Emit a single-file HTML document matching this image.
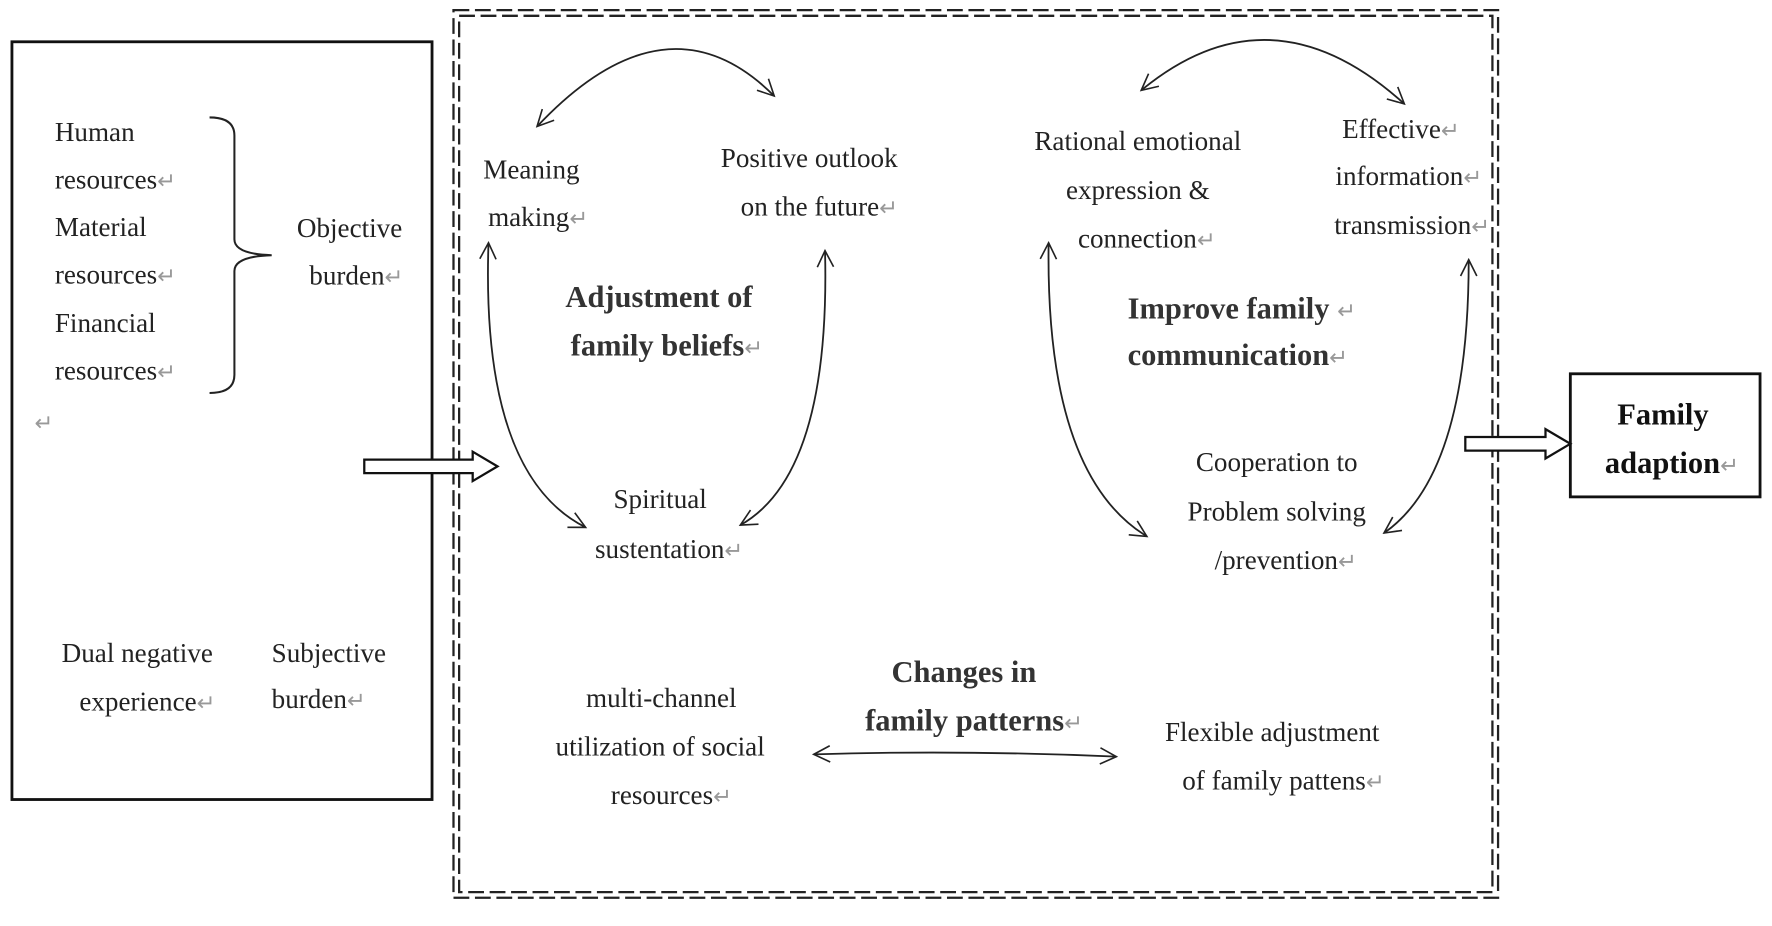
<!DOCTYPE html>
<html><head><meta charset="utf-8"><style>
html,body{margin:0;padding:0;background:#fff;width:1772px;height:926px;overflow:hidden}
svg{display:block}
text{font-family:"Liberation Serif",serif;font-size:24px;fill:#222}
.b{font-weight:bold;font-size:27px;fill:#333}
.r{fill:#999;font-size:20px;font-weight:normal}
</style></head><body>
<svg width="1772" height="926" viewBox="0 0 1568 820" xmlns="http://www.w3.org/2000/svg">
<defs>
<marker id="v" viewBox="0 0 20 20" refX="18" refY="10" markerWidth="18" markerHeight="18" markerUnits="userSpaceOnUse" orient="auto-start-reverse">
<path d="M2,2 L18,10 L2,18" fill="none" stroke="#222" stroke-width="1.6"/>
</marker>
</defs>
<!-- left box -->
<rect x="10" y="37" width="372" height="671" fill="none" stroke="#111" stroke-width="2.5"/>
<!-- dashed double box -->
<rect x="401" y="9" width="925" height="786" fill="none" stroke="#222" stroke-width="2" stroke-dasharray="14,5"/>
<rect x="406" y="14" width="915" height="776" fill="none" stroke="#222" stroke-width="2" stroke-dasharray="14,5"/>
<!-- family adaption box -->
<rect x="1390" y="331" width="168" height="109" fill="none" stroke="#111" stroke-width="2.5"/>
<!-- brace -->
<path d="M185,104 Q207,104 207,120 L207,212 Q207,225 240,226 Q207,227 207,240 L207,332 Q207,348 185,348" fill="none" stroke="#222" stroke-width="1.8"/>
<!-- hollow arrows -->
<path d="M322,407 L418,407 L418,400 L440,413 L418,426 L418,419 L322,419 Z" fill="#fff" stroke="#111" stroke-width="2"/>
<path d="M1297,387 L1368,387 L1368,380 L1390,393 L1368,406 L1368,399 L1297,399 Z" fill="#fff" stroke="#111" stroke-width="2"/>
<!-- curved arrows -->
<g fill="none" stroke="#222" stroke-width="1.6">
<path d="M685,85 Q590,-10 475,112" marker-start="url(#v)" marker-end="url(#v)"/>
<path d="M1010,80 Q1125,-15 1243,92" marker-start="url(#v)" marker-end="url(#v)"/>
<path d="M432,215 Q425,420 518,467" marker-start="url(#v)" marker-end="url(#v)"/>
<path d="M730,222 Q735,420 655,465" marker-start="url(#v)" marker-end="url(#v)"/>
<path d="M928,215 Q925,420 1015,475" marker-start="url(#v)" marker-end="url(#v)"/>
<path d="M1300,230 Q1300,420 1225,472" marker-start="url(#v)" marker-end="url(#v)"/>
<path d="M720,668 Q850,664 988,670" marker-start="url(#v)" marker-end="url(#v)"/>
</g>
<!-- left texts -->
<text x="48" y="125">Human</text>
<text x="48" y="167">resources<tspan class="r">↵</tspan></text>
<text x="48" y="209">Material</text>
<text x="48" y="251">resources<tspan class="r">↵</tspan></text>
<text x="48" y="294">Financial</text>
<text x="48" y="336">resources<tspan class="r">↵</tspan></text>
<text x="30" y="381" class="r">↵</text>
<text x="309" y="210" text-anchor="middle">Objective</text>
<text x="315" y="252" text-anchor="middle">burden<tspan class="r">↵</tspan></text>
<text x="121" y="586" text-anchor="middle">Dual negative</text>
<text x="130" y="629" text-anchor="middle">experience<tspan class="r">↵</tspan></text>
<text x="240" y="586">Subjective</text>
<text x="240" y="627">burden<tspan class="r">↵</tspan></text>
<!-- center -->
<text x="470" y="158" text-anchor="middle">Meaning</text>
<text x="476" y="200" text-anchor="middle">making<tspan class="r">↵</tspan></text>
<text x="716" y="148" text-anchor="middle">Positive outlook</text>
<text x="725" y="191" text-anchor="middle">on the future<tspan class="r">↵</tspan></text>
<text x="583" y="272" text-anchor="middle" class="b">Adjustment of</text>
<text x="590" y="315" text-anchor="middle" class="b">family beliefs<tspan class="r">↵</tspan></text>
<text x="584" y="450" text-anchor="middle">Spiritual</text>
<text x="592" y="494" text-anchor="middle">sustentation<tspan class="r">↵</tspan></text>
<text x="1007" y="133" text-anchor="middle">Rational emotional</text>
<text x="1007" y="176" text-anchor="middle">expression &amp;</text>
<text x="1015" y="219" text-anchor="middle">connection<tspan class="r">↵</tspan></text>
<text x="1240" y="122" text-anchor="middle">Effective<tspan class="r">↵</tspan></text>
<text x="1247" y="164" text-anchor="middle">information<tspan class="r">↵</tspan></text>
<text x="1250" y="207" text-anchor="middle">transmission<tspan class="r">↵</tspan></text>
<text x="998" y="282" class="b">Improve family <tspan class="r">↵</tspan></text>
<text x="998" y="323" class="b">communication<tspan class="r">↵</tspan></text>
<text x="1130" y="417" text-anchor="middle">Cooperation to</text>
<text x="1130" y="461" text-anchor="middle">Problem solving</text>
<text x="1138" y="504" text-anchor="middle">/prevention<tspan class="r">↵</tspan></text>
<text x="853" y="604" text-anchor="middle" class="b">Changes in</text>
<text x="862" y="647" text-anchor="middle" class="b">family patterns<tspan class="r">↵</tspan></text>
<text x="585" y="626" text-anchor="middle">multi-channel</text>
<text x="584" y="669" text-anchor="middle">utilization of social</text>
<text x="594" y="712" text-anchor="middle">resources<tspan class="r">↵</tspan></text>
<text x="1126" y="656" text-anchor="middle">Flexible adjustment</text>
<text x="1136" y="699" text-anchor="middle">of family pattens<tspan class="r">↵</tspan></text>
<text x="1472" y="376" text-anchor="middle" class="b" style="fill:#111">Family</text>
<text x="1480" y="419" text-anchor="middle" class="b" style="fill:#111">adaption<tspan class="r">↵</tspan></text>
</svg>
</body></html>
